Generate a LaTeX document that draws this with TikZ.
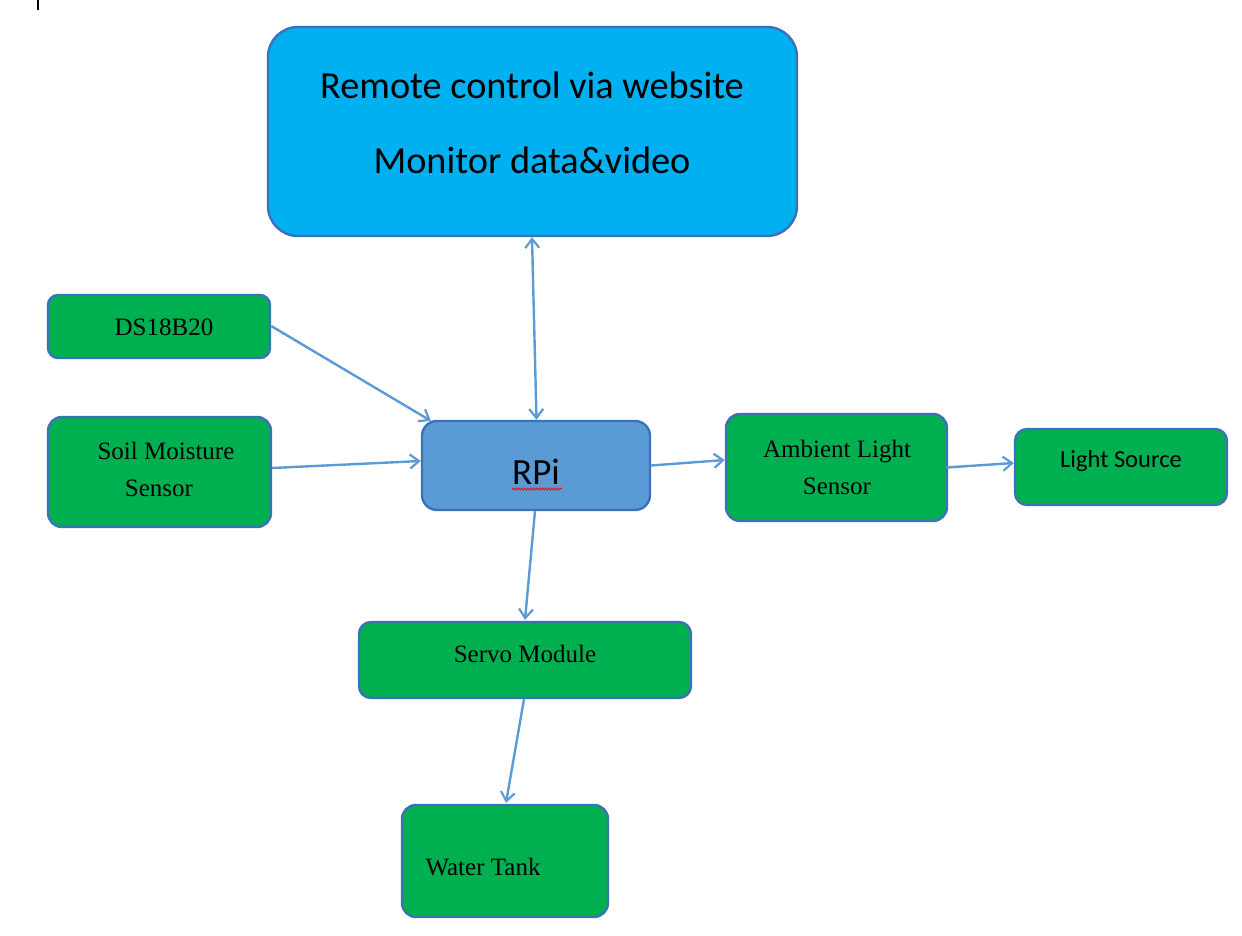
\documentclass[tikz,border=0pt]{standalone}
\usepackage{fontspec}
\setmainfont{Liberation Serif}
\newfontfamily\calibrifont{Carlito}
\usetikzlibrary{arrows.meta,calc,decorations.pathmorphing}
\definecolor{sky}{HTML}{00B0F0}
\definecolor{grn}{HTML}{00B050}
\definecolor{rpiblue}{HTML}{5B9BD5}
\definecolor{edge}{HTML}{3A72B8}
\definecolor{conn}{HTML}{5B9BD5}
\tikzset{
  box/.style={draw=edge, line width=2.4pt, inner sep=0pt},
  greenbox/.style={box, fill=grn, rounded corners=14pt},
  serif/.style={font=\fontsize{25}{37}\selectfont, align=center, inner sep=0pt},
  sans/.style={font=\calibrifont\fontsize{24.5}{30}\selectfont, inner sep=0pt},
  conn/.style={draw=conn, line width=2.4pt, -{Straight Barb[length=9pt,width=14pt,line width=2.2pt]}},
  bconn/.style={draw=conn, line width=2.4pt, {Straight Barb[length=9pt,width=14pt,line width=2.2pt]}-{Straight Barb[length=9pt,width=14pt,line width=2.2pt]}}
}
\begin{document}
\begin{tikzpicture}[x=1pt,y=-1pt]
\useasboundingbox (0,0) rectangle (1242,936);
% cursor mark
\draw[black, line width=2.2pt] (38,0) -- (38,10);
% top box
\node[box, fill=sky, rounded corners=30pt, minimum width=529pt, minimum height=209pt] (web) at (532.5,131.5) {};
\node[font=\calibrifont\fontsize{38.3}{40}\selectfont, inner sep=0pt] (t1) at (532,85) {Remote control via website};
\node[font=\calibrifont\fontsize{38.3}{40}\selectfont, inner sep=0pt] (t2) at (532,160) {Monitor data\&video};
% RPi
\node[box, fill=rpiblue, rounded corners=15pt, minimum width=228pt, minimum height=89pt] (rpi) at (536,465.5) {};
\node[font=\calibrifont\fontsize{37}{40}\selectfont, inner sep=0pt] (rpit) at (536,472) {RPi};
\draw[red, line width=0.8pt, decorate, decoration={zigzag, amplitude=1pt, segment length=3pt}] (512,489) -- (562,489);
% green boxes
\node[greenbox, rounded corners=10pt, minimum width=222pt, minimum height=63pt] (ds) at (159,326.5) {};
\node[serif] (dst) at (164,327) {DS18B20};
\node[greenbox, minimum width=223pt, minimum height=110pt] (soil) at (159.5,472) {};
\node[serif] (soilt1) at (166,451) {Soil Moisture};
\node[serif] (soilt2) at (159,488) {Sensor};
\node[greenbox, minimum width=221pt, minimum height=107pt] (amb) at (836.5,467.5) {};
\node[serif] (ambt) at (837,467) {Ambient Light\\Sensor};
\node[greenbox, rounded corners=12pt, minimum width=212pt, minimum height=76pt] (ls) at (1121,467) {};
\node[sans] (lst) at (1121,461) {Light Source};
\node[greenbox, rounded corners=12pt, minimum width=332pt, minimum height=76pt] (servo) at (525,660) {};
\node[serif] (servot) at (525,654) {Servo Module};
\node[greenbox, minimum width=206pt, minimum height=112pt] (wt) at (505,861) {};
\node[serif] (wtt) at (483,867) {Water Tank};
% connectors
\draw[bconn] ($(web.south)+(-0.5,0)$) -- ($(rpi.north)+(0.5,0)$);
\draw[conn] ($(ds.east)+(0,-0.5)$) -- ($(rpi.north west)+(10,1)$);
\draw[conn] ($(soil.east)+(0,-4)$) -- ($(rpi.west)+(0,-4.5)$);
\draw[conn] ($(rpi.east)+(0,0)$) -- ($(amb.west)+(0,-7.5)$);
\draw[conn] ($(amb.east)+(-2,0)$) -- ($(ls.west)+(0,-4)$);
\draw[conn] ($(rpi.south)+(-1,0)$) -- ($(servo.north)+(0,-1)$);
\draw[conn] ($(servo.south)+(-1,0)$) -- ($(wt.north)+(1,-1)$);
\end{tikzpicture}
\end{document}
